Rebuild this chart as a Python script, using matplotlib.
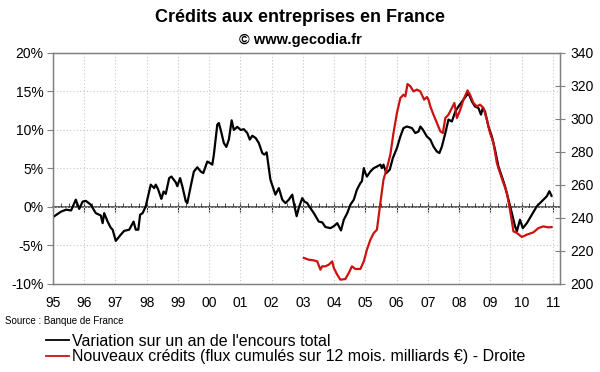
import matplotlib
matplotlib.use("Agg")
import matplotlib.pyplot as plt
from matplotlib.lines import Line2D
from matplotlib.ticker import MultipleLocator, FuncFormatter

plt.rcParams['font.family'] = ['Liberation Sans', 'DejaVu Sans']

# --- data ---
# annual change of total outstanding credit, %
var_years = [1995.04, 1995.26, 1995.42, 1995.58, 1995.73, 1995.84, 1995.95, 1996.05,
             1996.21, 1996.37, 1996.53, 1996.59, 1996.64, 1996.75, 1996.85, 1996.91,
             1997.01, 1997.17, 1997.28, 1997.44, 1997.58, 1997.65, 1997.73, 1997.79,
             1997.87, 1997.97, 1998.13, 1998.24, 1998.29, 1998.36, 1998.47, 1998.54,
             1998.61, 1998.72, 1998.79, 1998.93, 1998.98, 1999.07, 1999.14, 1999.25,
             1999.30, 1999.41, 1999.51, 1999.62, 1999.73, 1999.81, 1999.94, 2000.03,
             2000.10, 2000.15, 2000.26, 2000.31, 2000.37, 2000.47, 2000.55, 2000.63,
             2000.72, 2000.79, 2000.90, 2001.01, 2001.11, 2001.22, 2001.30, 2001.38,
             2001.49, 2001.59, 2001.70, 2001.77, 2001.84, 2001.96, 2002.12, 2002.23,
             2002.34, 2002.44, 2002.55, 2002.66, 2002.71, 2002.80, 2002.87, 2002.98,
             2003.05, 2003.14, 2003.20, 2003.35, 2003.51, 2003.62, 2003.72, 2003.88,
             2003.99, 2004.10, 2004.22, 2004.31, 2004.42, 2004.52, 2004.63, 2004.73,
             2004.84, 2004.89, 2004.95, 2005.00, 2005.05, 2005.16, 2005.27, 2005.37,
             2005.48, 2005.53, 2005.58, 2005.67, 2005.78, 2005.88, 2006.01, 2006.12,
             2006.22, 2006.33, 2006.49, 2006.60, 2006.70, 2006.76, 2006.84, 2006.97,
             2007.08, 2007.18, 2007.29, 2007.37, 2007.45, 2007.56, 2007.66, 2007.77,
             2007.88, 2007.98, 2008.14, 2008.30, 2008.41, 2008.51, 2008.62, 2008.70,
             2008.76, 2008.83, 2008.94, 2009.05, 2009.15, 2009.26, 2009.37, 2009.47,
             2009.58, 2009.69, 2009.79, 2009.85, 2009.95, 2010.04, 2010.17, 2010.33,
             2010.49, 2010.65, 2010.81, 2010.89, 2010.96]
var_pct = [-1.2, -0.6, -0.35, -0.45, 0.95, -0.25, 0.7, 0.8,
           0.3, -0.8, -1.1, -2.1, -0.8, -1.9, -2.7, -2.95,
           -4.4, -3.6, -3.1, -2.95, -1.9, -2.95, -2.95, -1.0,
           -0.8, 0.1, 2.9, 2.45, 2.9, 2.35, 1.05, 2.0,
           1.7, 3.75, 3.95, 3.2, 2.7, 3.75, 2.7, 0.75,
           0.5, 2.7, 4.6, 5.15, 4.6, 4.4, 5.9, 5.7,
           5.5, 6.8, 10.7, 10.9, 10.0, 8.3, 7.8, 8.75,
           11.25, 10.0, 10.4, 10.0, 10.1, 9.6, 8.75, 9.25,
           8.95, 8.3, 7.0, 6.8, 7.1, 3.55, 1.6, 2.45,
           0.95, 0.5, 0.95, 1.6, 0.5, -1.2, -0.1, 1.15,
           0.7, 0.5, 0.1, -0.8, -1.9, -2.0, -2.6, -2.75,
           -2.5, -2.1, -3.05, -1.65, -0.8, 0.3, 0.95, 2.25,
           3.1, 3.35, 5.05, 4.4, 3.95, 4.6, 5.05, 5.25,
           5.5, 5.05, 5.5, 4.4, 4.85, 6.35, 7.65, 9.15,
           10.25, 10.45, 10.25, 9.6, 9.8, 10.45, 10.05, 9.15,
           8.75, 7.85, 7.2, 7.0, 7.85, 9.6, 11.35, 11.1,
           12.4, 13.05, 13.95, 14.8, 13.7, 13.05, 12.85, 12.0,
           12.85, 12.4, 10.45, 9.15, 7.45, 5.25, 3.95, 2.7,
           0.95, -0.8, -2.5, -3.15, -1.65, -2.75, -2.1, -1.0,
           0.1, 0.75, 1.4, 2.05, 1.45]

# new credits, 12-month cumulated flows, billions EUR (right axis)
new_years = [2003.03, 2003.19, 2003.35, 2003.46, 2003.56, 2003.62, 2003.72, 2003.83,
             2003.94, 2003.99, 2004.10, 2004.20, 2004.36, 2004.47, 2004.57, 2004.68,
             2004.84, 2004.95, 2005.05, 2005.16, 2005.27, 2005.37, 2005.48, 2005.58,
             2005.69, 2005.80, 2005.90, 2006.01, 2006.12, 2006.22, 2006.28, 2006.35,
             2006.44, 2006.54, 2006.65, 2006.76, 2006.88, 2006.97, 2007.02, 2007.08,
             2007.18, 2007.29, 2007.40, 2007.48, 2007.56, 2007.66, 2007.77, 2007.85,
             2007.93, 2008.04, 2008.14, 2008.27, 2008.35, 2008.46, 2008.57, 2008.67,
             2008.78, 2008.89, 2008.99, 2009.10, 2009.21, 2009.31, 2009.42, 2009.53,
             2009.63, 2009.74, 2009.85, 2010.01, 2010.17, 2010.38, 2010.54, 2010.70,
             2010.86, 2010.96]
new_credits = [215.8, 214.7, 214.3, 213.7, 208.7, 210.7, 210.7, 211.7,
               213.7, 209.7, 205.6, 202.6, 203.0, 206.7, 210.7, 209.1,
               209.1, 213.7, 220.8, 226.8, 230.9, 232.9, 249.1, 263.2,
               270.3, 278.4, 291.5, 303.6, 312.7, 314.7, 313.7, 321.2,
               319.8, 316.7, 317.8, 316.7, 311.7, 313.3, 311.7, 307.6,
               302.6, 297.6, 292.5, 291.5, 300.6, 302.6, 306.7, 309.7,
               300.6, 305.7, 311.7, 317.3, 314.7, 309.7, 307.6, 308.7,
               306.7, 299.6, 291.5, 285.5, 273.3, 267.3, 261.2, 255.2,
               245.0, 231.9, 230.9, 228.5, 229.9, 231.3, 233.9, 234.9,
               234.3, 234.5]

year_ticks = list(range(1995, 2012))
year_labels = ['%02d' % (y % 100) for y in year_ticks]

label_var = "Variation sur un an de l'encours total"
label_new = "Nouveaux crédits (flux cumulés sur 12 mois. milliards €) - Droite"

GRAY = '#808080'
GRID = '#c8c8c8'
RED = '#cc1111'

fig = plt.figure(figsize=(6.0, 3.72), dpi=100)
ax = fig.add_axes([0.0883, 0.2366, 0.845, 0.621])

# left axis
ax.set_xlim(1995, 2011.23)
ax.set_ylim(-10, 20)
ax.yaxis.set_major_locator(MultipleLocator(5))
ax.yaxis.set_major_formatter(FuncFormatter(lambda v, p: '%d%%' % v))
ax.set_xticks(year_ticks)
ax.set_xticklabels(year_labels)
ax.tick_params(axis='x', length=0, pad=9, labelsize=10)
ax.tick_params(axis='y', direction='out', length=4, color=GRAY, labelsize=10, pad=3)
ax.grid(True, color=GRID, linestyle=(0, (1, 2)), linewidth=0.8)
for s in ax.spines.values():
    s.set_color(GRAY)
    s.set_linewidth(1.0)

# zero line with year / quarter ticks
zero = ax.secondary_xaxis(1 / 3)
zero.spines['bottom'].set_color('#303030')
zero.spines['bottom'].set_linewidth(1.1)
zero.set_xticks(year_ticks)
zero.set_xticklabels([])
zero.xaxis.set_minor_locator(MultipleLocator(0.25))
zero.tick_params(axis='x', which='major', direction='inout', length=7, color='#303030')
zero.tick_params(axis='x', which='minor', direction='in', length=3, color='#303030')

ax.plot(var_years, var_pct, color='black', linewidth=1.6, zorder=3)

# right axis
ax2 = ax.twinx()
ax2.set_ylim(200, 340)
ax2.yaxis.set_major_locator(MultipleLocator(20))
ax2.tick_params(axis='y', direction='inout', length=7, color=GRAY, labelsize=10, pad=4)
for s in ax2.spines.values():
    s.set_color(GRAY)
ax2.plot(new_years, new_credits, color=RED, linewidth=1.6, zorder=3)

# titles
fig.text(0.5, 0.952, 'Crédits aux entreprises en France', ha='center', va='center',
         fontsize=13, fontweight='bold')
fig.text(0.5, 0.893, '© www.gecodia.fr', ha='center', va='center',
         fontsize=10.5, fontweight='bold')
fig.text(0.008, 0.138, 'Source : Banque de France', ha='left', va='center', fontsize=7)

handles = [Line2D([], [], color='black', linewidth=1.3),
           Line2D([], [], color=RED, linewidth=1.3)]
fig.legend(handles=handles, labels=[label_var, label_new], loc='upper left',
           bbox_to_anchor=(0.076, 0.103), frameon=False, fontsize=11.5,
           handlelength=1.45, handletextpad=0.2, labelspacing=0.05,
           borderaxespad=0, borderpad=0)

fig.savefig('out.png', dpi=100)
